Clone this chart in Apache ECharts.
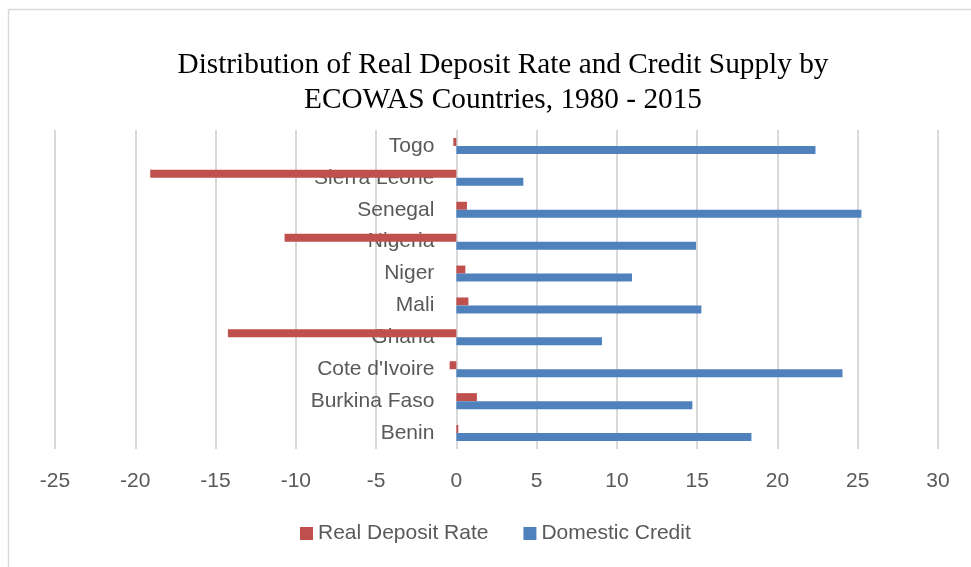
<!DOCTYPE html>
<html>
<head>
<meta charset="utf-8">
<script src="https://cdn.jsdelivr.net/npm/echarts@6/dist/echarts.min.js"></script>
<style>
  html, body { margin: 0; padding: 0; background: #fff; }
  #chart { width: 971px; height: 567px; }
</style>
</head>
<body>
<div id="chart"></div>
<script>
// Countries listed bottom-to-top along the category axis
const countries = ['Benin', 'Burkina Faso', "Cote d'Ivoire", 'Ghana', 'Mali', 'Niger', 'Nigeria', 'Senegal', 'Sierra Leone', 'Togo'];
// Average real deposit rate (%)
const realDepositRate = [0.12, 1.28, -0.42, -14.23, 0.75, 0.56, -10.70, 0.66, -19.07, -0.19];
// Average domestic credit (% of GDP)
const domesticCredit = [18.38, 14.70, 24.05, 9.07, 15.26, 10.94, 14.93, 25.23, 4.17, 22.37];
// Value-axis range and step
const axisMin = -25;
const axisMax = 30;
const axisStep = 5;

const chart = echarts.init(document.getElementById('chart'), null, { renderer: 'canvas' });

const labelFont = 'Liberation Sans, Arial, sans-serif';
const gridGrey = '#d9d9d9';

const gridLeft = 55;
const gridRight = 33;
const plotWidth = 971 - gridLeft - gridRight;
// shift the category axis inward so it stands on the zero value
const zeroShift = (0 - axisMin) / (axisMax - axisMin) * plotWidth;

chart.setOption({
  backgroundColor: '#ffffff',
  animation: false,
  title: {
    text: 'Distribution of Real Deposit Rate and Credit Supply by\nECOWAS Countries, 1980 - 2015',
    left: 498,
    textAlign: 'center',
    top: 43,
    textStyle: {
      fontFamily: 'Liberation Serif, Times New Roman, serif',
      fontWeight: 'normal',
      fontSize: 29.3,
      lineHeight: 35,
      color: '#000000'
    }
  },
  legend: {
    bottom: 18,
    left: 295,
    itemWidth: 13,
    itemHeight: 13,
    itemGap: 35,
    icon: 'rect',
    textStyle: { fontFamily: labelFont, fontSize: 21, color: '#595959' },
    data: ['Real Deposit Rate', 'Domestic Credit']
  },
  grid: {
    left: gridLeft,
    right: gridRight,
    top: 130,
    bottom: 118,
    containLabel: false,
    outerBoundsMode: 'none'
  },
  xAxis: {
    type: 'value',
    min: axisMin,
    max: axisMax,
    interval: axisStep,
    axisLine: { show: false },
    axisTick: { show: false },
    axisLabel: {
      margin: 22,
      fontFamily: labelFont,
      fontSize: 21,
      color: '#595959'
    },
    splitLine: { show: true, lineStyle: { color: gridGrey, width: 2 } }
  },
  yAxis: {
    type: 'category',
    data: countries,
    position: 'left',
    offset: -zeroShift,
    axisLine: { show: false, onZero: false },
    axisTick: { show: false },
    axisLabel: {
      margin: 22,
      fontFamily: labelFont,
      fontSize: 21,
      color: '#595959'
    },
    splitLine: { show: false }
  },
  series: [
    {
      name: 'Real Deposit Rate',
      type: 'bar',
      data: realDepositRate,
      barWidth: 8,
      barGap: '0%',
      itemStyle: { color: '#c0504d' },
      z: 2
    },
    {
      name: 'Domestic Credit',
      type: 'bar',
      data: domesticCredit,
      barWidth: 8,
      barGap: '0%',
      itemStyle: { color: '#4f81bd' },
      z: 2
    }
  ],
  graphic: [
    {
      type: 'line',
      shape: { x1: 8.5, y1: 9.5, x2: 971, y2: 9.5 },
      style: { stroke: gridGrey, lineWidth: 1.5 },
      silent: true
    },
    {
      type: 'line',
      shape: { x1: 8.5, y1: 9.5, x2: 8.5, y2: 567 },
      style: { stroke: gridGrey, lineWidth: 1.5 },
      silent: true
    }
  ]
});
</script>
</body>
</html>
